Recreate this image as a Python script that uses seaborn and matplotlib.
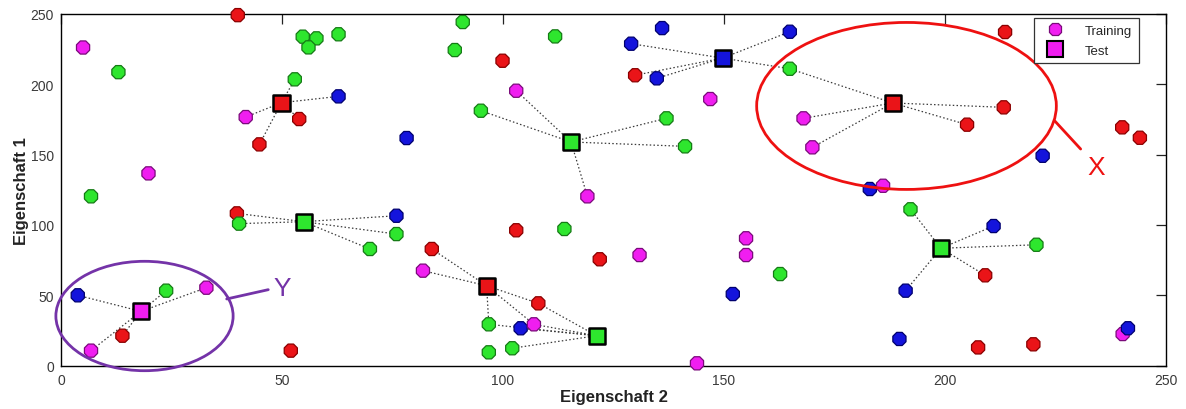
import numpy as np
import pandas as pd
import matplotlib
matplotlib.use("Agg")
import matplotlib.pyplot as plt
from matplotlib.patches import Ellipse
from matplotlib.lines import Line2D
import seaborn as sns

# ---------------- data ----------------
train_x = [5.0, 13.0, 40.0, 54.7, 57.8, 56.0, 62.8, 52.9, 62.8, 41.8, 53.9, 44.9, 19.8, 6.8,
           90.9, 89.1, 99.9, 111.8, 136.0, 129.0, 129.9, 134.8, 146.9, 103.0, 95.0, 78.2, 137.0,
           141.2, 119.1, 164.9, 164.9, 168.0, 170.0, 213.3, 205.0, 213.6, 240.1, 244.1, 222.1,
           183.0, 186.0, 39.8, 40.3, 75.9, 75.9, 69.9, 3.8, 23.8, 32.9, 13.9, 6.8, 52.0, 103.0,
           113.9, 83.9, 81.9, 121.9, 130.9, 155.0, 155.0, 162.7, 152.0, 108.0, 96.8, 104.0, 107.0,
           96.8, 102.1, 143.9, 192.2, 211.0, 220.7, 209.1, 191.1, 189.7, 207.5, 220.0, 240.2, 241.4]
train_y = [226.0, 208.5, 249.0, 233.7, 232.5, 226.1, 235.4, 203.4, 191.3, 176.6, 175.2, 157.2, 136.6, 120.3,
           244.1, 224.2, 216.6, 233.9, 239.8, 228.7, 206.3, 204.1, 189.4, 195.3, 181.1, 161.7, 175.7,
           155.8, 120.3, 237.2, 210.9, 175.7, 155.1, 183.5, 171.2, 237.0, 169.3, 161.9, 149.1,
           125.5, 127.8, 108.2, 100.9, 106.5, 93.5, 82.9, 50.0, 53.3, 55.4, 21.3, 10.7, 10.7, 96.2,
           97.1, 82.9, 67.5, 75.6, 78.6, 90.5, 78.6, 65.1, 50.9, 44.3, 29.4, 26.6, 29.4,
           9.5, 12.4, 1.7, 111.1, 99.2, 85.9, 64.2, 53.3, 19.0, 13.0, 15.2, 22.5, 26.6]
train_cls = ["m", "g", "r", "g", "g", "g", "g", "g", "b", "m", "r", "r", "m", "g",
             "g", "g", "r", "g", "b", "b", "r", "b", "m", "m", "g", "b", "g",
             "g", "m", "b", "g", "m", "m", "r", "r", "r", "r", "r", "b",
             "b", "m", "r", "g", "b", "g", "g", "b", "g", "m", "r", "m", "r", "r",
             "g", "r", "m", "r", "m", "m", "m", "g", "b", "r", "g", "b", "m",
             "g", "g", "m", "g", "b", "g", "r", "b", "b", "r", "r", "m", "b"]

test_x = [49.9, 149.7, 115.4, 188.2, 54.9, 18.1, 96.3, 121.2, 199.1]
test_y = [186.8, 218.5, 158.9, 186.6, 102.3, 38.6, 56.8, 21.3, 83.4]
test_cls = ["r", "b", "g", "r", "g", "m", "r", "g", "g"]
test_neighbors = [[7, 8, 9, 10, 11], [19, 20, 21, 29, 30], [23, 24, 26, 27, 28],
                  [30, 31, 32, 33, 34], [41, 42, 43, 44, 45], [46, 47, 48, 49, 50],
                  [54, 55, 62, 63, 65], [62, 63, 64, 65, 67], [69, 70, 71, 72, 73]]

x_ticks = [0, 50, 100, 150, 200, 250]
y_ticks = [0, 50, 100, 150, 200, 250]
x_label = "Eigenschaft 2"
y_label = "Eigenschaft 1"
legend_labels = ["Training", "Test"]

# ---------------- style ----------------
face = {"r": "#ea1418", "g": "#2ee62e", "b": "#1414dc", "m": "#f01ef0"}
edge = {"r": "#8a0000", "g": "#157a15", "b": "#00006e", "m": "#7a0a7a"}

sns.set_theme(style="white")
plt.rcParams["font.family"] = ["Liberation Sans", "DejaVu Sans"]

fig = plt.figure(figsize=(11.86, 4.10), dpi=100)
ax = fig.add_axes([0.0514, 0.1056, 0.9317, 0.8585])

train = pd.DataFrame({"x": train_x, "y": train_y, "cls": train_cls})
test = pd.DataFrame({"x": test_x, "y": test_y, "cls": test_cls})

# neighbour lines
for tx, ty, nb in zip(test_x, test_y, test_neighbors):
    for i in nb:
        ax.plot([tx, train_x[i]], [ty, train_y[i]], color="#3a3a3a", lw=0.9,
                linestyle=(0, (1.2, 1.8)), zorder=1)

sns.scatterplot(data=train, x="x", y="y", hue="cls", palette=face, marker="8",
                s=105, linewidth=0.9, legend=False, ax=ax, zorder=3, clip_on=False)
ax.collections[-1].set_edgecolor([edge[c] for c in train_cls])

sns.scatterplot(data=test, x="x", y="y", hue="cls", palette=face, marker="s",
                s=135, linewidth=1.8, edgecolor="black", legend=False, ax=ax, zorder=4,
                clip_on=False)

# annotations
ax.add_patch(Ellipse((191.3, 184.5), 67.8, 118.6, fill=False, edgecolor="#ee1111",
                     lw=2.0, zorder=5, clip_on=False))
ax.plot([224.8, 230.7], [174.0, 153.9], color="#ee1111", lw=2.0, zorder=5)
ax.text(234.3, 140.9, "X", color="#ee1111", fontsize=19, ha="center", va="center", zorder=5)

ax.add_patch(Ellipse((18.9, 35.3), 40.1, 77.7, fill=False, edgecolor="#7433a8",
                     lw=2.0, zorder=5, clip_on=False))
ax.plot([37.5, 46.9], [47.4, 54.0], color="#7433a8", lw=2.0, zorder=5)
ax.text(50.0, 55.4, "Y", color="#7433a8", fontsize=19, ha="center", va="center", zorder=5)

# axes
ax.set_xlim(0, 250)
ax.set_ylim(0, 250)
ax.set_xticks(x_ticks)
ax.set_yticks(y_ticks)
ax.tick_params(direction="in", length=7, width=0.9, top=True, right=True,
               labelsize=10, labelcolor="#3a3a3a", color="#222222", pad=5)
for sp in ax.spines.values():
    sp.set_color("black")
    sp.set_linewidth(1.0)
ax.set_xlabel(x_label, fontsize=12, fontweight="bold", color="#222222", labelpad=2)
ax.set_ylabel(y_label, fontsize=12, fontweight="bold", color="#222222", labelpad=1)

handles = [Line2D([], [], marker="8", linestyle="none", markersize=10,
                  markerfacecolor=face["m"], markeredgecolor=edge["m"], markeredgewidth=0.9),
           Line2D([], [], marker="s", linestyle="none", markersize=11,
                  markerfacecolor=face["m"], markeredgecolor="black", markeredgewidth=1.5)]
leg = ax.legend(handles, legend_labels, loc="upper right", bbox_to_anchor=(0.9756, 0.9886),
                borderaxespad=0, fancybox=False, framealpha=1, edgecolor="#333333",
                fontsize=9.5, handletextpad=1.2, borderpad=0.5, labelspacing=0.6,
                handlelength=2.2)
leg.get_frame().set_linewidth(0.9)

fig.savefig("out.png", dpi=100)
